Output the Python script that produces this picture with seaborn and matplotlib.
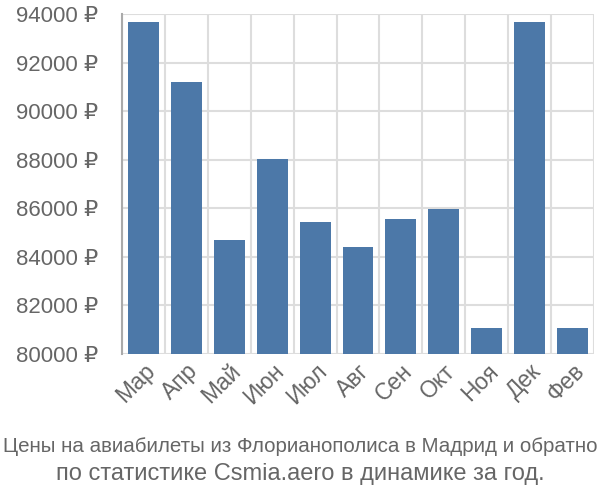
import matplotlib
matplotlib.use("Agg")
import matplotlib.pyplot as plt
import seaborn as sns
import pandas as pd
from matplotlib.ticker import FuncFormatter, FixedLocator
from matplotlib import font_manager

months = ["Мар", "Апр", "Май", "Июн", "Июл", "Авг", "Сен", "Окт", "Ноя", "Дек", "Фев"]
prices = [93690, 91200, 84700, 88040, 85450, 84420, 85540, 85990, 81080, 93690, 81080]
yticks = [80000, 82000, 84000, 86000, 88000, 90000, 92000, 94000]
title_lines = ["Цены на авиабилеты из Флорианополиса в Мадрид и обратно",
               "по статистике Csmia.aero в динамике за год."]

sns.set_style("white")
plt.rcParams["font.family"] = ["Liberation Sans", "DejaVu Sans"]

names = {f.name for f in font_manager.fontManager.ttflist}
narrow = "Liberation Sans Narrow" if "Liberation Sans Narrow" in names else None

df = pd.DataFrame({"month": months, "price": prices})

fig = plt.figure(figsize=(6, 5), dpi=100)
ax = fig.add_axes([122 / 600, 1 - 354 / 500, (594 - 122) / 600, (354 - 14) / 500])

sns.barplot(data=df, x="month", y="price", color="#4c78a8", saturation=1,
            width=0.72, edgecolor="none", ax=ax)

ax.set_ylim(80000, 94000)
ax.set_xlim(-0.5, len(months) - 0.5)
ax.yaxis.set_major_locator(FixedLocator(yticks))
ax.yaxis.set_major_formatter(FuncFormatter(lambda v, p: f"{int(v)} ₽"))

grid_c = "#dddddd"
ax.set_axisbelow(True)
ax.yaxis.grid(True, color=grid_c, linewidth=1.5)
ax.xaxis.set_minor_locator(FixedLocator([i - 0.5 for i in range(len(months) + 1)]))
ax.xaxis.grid(True, which="minor", color=grid_c, linewidth=1.5)
ax.xaxis.grid(False, which="major")

ax.tick_params(axis="y", length=16, width=1.5, color=grid_c, labelsize=16,
               labelcolor="#666666", pad=1)
ax.tick_params(axis="x", which="major", length=0, labelsize=16.5,
               labelcolor="#666666", pad=4)
ax.tick_params(axis="x", which="minor", length=15, width=1.5, color=grid_c)
for lbl in ax.get_xticklabels():
    lbl.set_rotation(45)
    lbl.set_ha("right")
    lbl.set_rotation_mode("anchor")

for s in ["top", "right", "bottom"]:
    ax.spines[s].set_visible(False)
ax.spines["left"].set_color("#aaaaaa")
ax.spines["left"].set_linewidth(1.5)

ax.set_xlabel("")
ax.set_ylabel("")

t1 = fig.text(0.5, 1 - 446 / 500, title_lines[0], ha="center", va="center",
              fontsize=17, color="#666666")
if narrow:
    t1.set_family([narrow, "DejaVu Sans"])
fig.text(0.5, 1 - 474 / 500, title_lines[1], ha="center", va="center",
         fontsize=17, color="#666666")

# fit first line to the figure width if needed
r = fig.canvas.get_renderer()
w = t1.get_window_extent(r).width
if abs(w - 596) > 4:
    t1.set_fontsize(17 * 596 / w)

fig.savefig("out.png", dpi=100)
